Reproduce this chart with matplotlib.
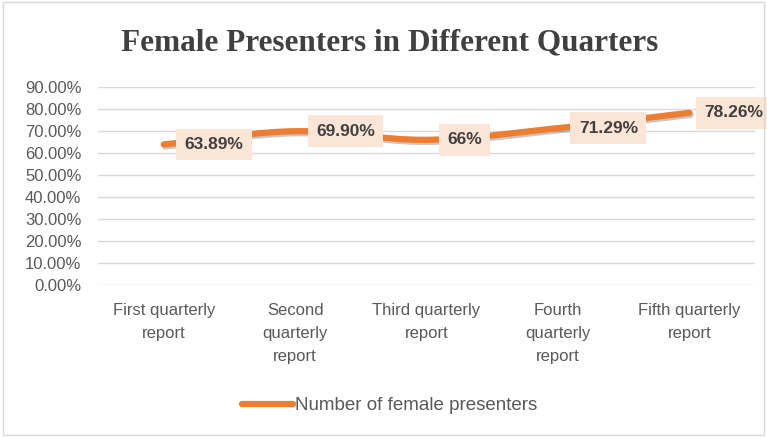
import numpy as np
import matplotlib
matplotlib.use("Agg")
import matplotlib.pyplot as plt
import matplotlib.patheffects as pe
from matplotlib.patches import Rectangle
from matplotlib.lines import Line2D

categories = ["First quarterly\nreport", "Second\nquarterly\nreport", "Third quarterly\nreport",
              "Fourth\nquarterly\nreport", "Fifth quarterly\nreport"]
values = [0.6389, 0.6990, 0.66, 0.7129, 0.7826]
labels = ["63.89%", "69.90%", "66%", "71.29%", "78.26%"]
yticks = [0.0, 0.1, 0.2, 0.3, 0.4, 0.5, 0.6, 0.7, 0.8, 0.9]
series_name = "Number of female presenters"
title = "Female Presenters in Different Quarters"

ORANGE = "#ED7D31"
GRAY = "#595959"
SANS = "Liberation Sans"

def catmull_rom(x, y, n=30):
    x = np.asarray(x, float); y = np.asarray(y, float)
    px = np.concatenate([[2*x[0]-x[1]], x, [2*x[-1]-x[-2]]])
    py = np.concatenate([[2*y[0]-y[1]], y, [2*y[-1]-y[-2]]])
    xs, ys = [], []
    for i in range(1, len(px)-2):
        t = np.linspace(0, 1, n, endpoint=(i == len(px)-3))
        for arr, p in ((xs, px), (ys, py)):
            p0, p1, p2, p3 = p[i-1], p[i], p[i+1], p[i+2]
            arr.extend(0.5*((2*p1) + (-p0+p2)*t + (2*p0-5*p1+4*p2-p3)*t**2 + (-p0+3*p1-3*p2+p3)*t**3))
    return np.array(xs), np.array(ys)

fig = plt.figure(figsize=(7.67, 4.37), dpi=100)
fig.patches.append(Rectangle((0.004, 0.004), 0.992, 0.992, transform=fig.transFigure,
                             fill=False, edgecolor="#D9D9D9", linewidth=1))
ax = fig.add_axes([0.1278, 0.3478, 0.8566, 0.4532])

x = np.arange(len(values))
sx, sy = catmull_rom(x, values)
ax.plot(sx, sy, color=ORANGE, linewidth=4.5, solid_capstyle="round",
        path_effects=[pe.SimpleLineShadow(offset=(1, -1.5), shadow_color="black", alpha=0.22),
                      pe.Normal()], zorder=3)

for i, (xi, v, lab) in enumerate(zip(x, values, labels)):
    off = 15 if i < len(values) - 1 else 11
    ax.annotate(lab, (xi, v), xytext=(off, 0), textcoords="offset points",
                ha="left", va="center", fontsize=12.5, fontweight="bold", color="#404040",
                family=SANS,
                bbox=dict(boxstyle="square,pad=0.48", facecolor="#FBE5D6", edgecolor="none"),
                zorder=4)

ax.set_xlim(-0.5, len(values)-0.5)
ax.set_ylim(0, 0.9)
ax.set_yticks(yticks)
ax.set_yticklabels([f"{t*100:.2f}%" for t in yticks], fontsize=12, color=GRAY, family=SANS)
ax.set_xticks(x)
ax.set_xticklabels(categories, fontsize=12, color=GRAY, family=SANS, linespacing=1.65)
ax.tick_params(axis="y", length=0, pad=12)
ax.tick_params(axis="x", length=0, pad=13)
ax.grid(axis="y", color="#D9D9D9", linewidth=1)
ax.set_axisbelow(True)
for s in ax.spines.values():
    s.set_visible(False)

fig.text(0.508, 0.902, title, ha="center", va="center", fontsize=22.5, fontweight="bold",
         family="Liberation Serif", color="#404040")

h = Line2D([], [], color=ORANGE, linewidth=4.5, solid_capstyle="round")
fig.legend([h], [series_name], loc="center", bbox_to_anchor=(0.508, 0.072), frameon=False,
           prop=dict(family=SANS, size=13.5), labelcolor=GRAY, handlelength=2.7, handletextpad=0.1)

fig.savefig("out.png", dpi=100)
